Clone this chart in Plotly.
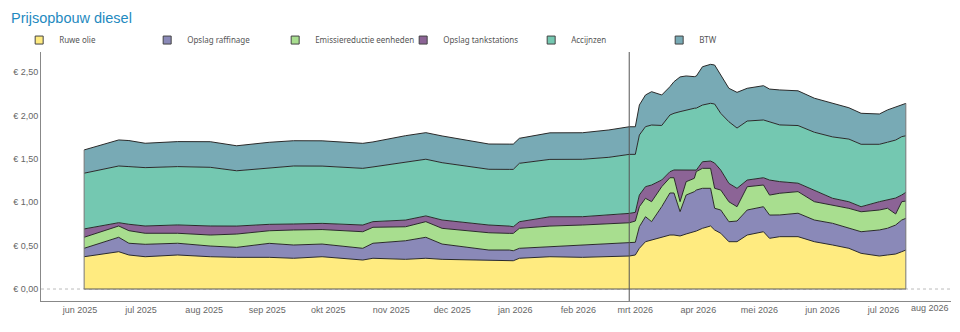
import plotly.graph_objects as go

# ---- data (euro per liter) ----
dates = [
    "2025-06-03", "2025-06-20", "2025-06-25", "2025-07-03", "2025-07-19", "2025-08-04",
    "2025-08-17", "2025-09-02", "2025-09-14", "2025-09-28", "2025-10-18", "2025-10-23",
    "2025-11-08", "2025-11-18", "2025-11-26", "2025-12-19", "2025-12-29", "2025-12-31",
    "2026-01-03", "2026-01-18", "2026-02-03", "2026-02-16", "2026-02-26", "2026-03-01",
    "2026-03-03", "2026-03-06", "2026-03-09", "2026-03-14", "2026-03-18", "2026-03-20",
    "2026-03-23", "2026-03-26", "2026-03-30", "2026-03-31", "2026-04-03", "2026-04-07",
    "2026-04-09", "2026-04-12", "2026-04-16", "2026-04-20", "2026-04-25", "2026-05-03",
    "2026-05-06", "2026-05-11", "2026-05-20", "2026-05-28", "2026-06-06", "2026-06-14",
    "2026-06-20", "2026-06-29", "2026-07-03", "2026-07-07", "2026-07-10", "2026-07-12",
]
ruwe_olie = [
    .372, .430, .392, .372, .392, .372, .365, .365, .354, .372, .334, .354,
    .342, .354, .342, .334, .334, .326, .354, .372, .365, .372, .380, .392,
    .469, .545, .565, .603, .622, .622, .611, .634, .660, .668, .699, .726,
    .680, .642, .545, .545, .622, .660, .584, .603, .603, .545, .507, .469,
    .411, .380, .392, .403, .430, .449,
]
opslag_raffinage = [
    .097, .166, .135, .143, .135, .123, .115, .161, .153, .146, .135, .173,
    .214, .242, .176, .115, .115, .115, .115, .115, .142, .146, .153, .146,
    .249, .288, .211, .346, .484, .484, .280, .449, .461, .472, .461, .434,
    .250, .268, .230, .238, .288, .288, .268, .250, .270, .250, .250, .230,
    .249, .300, .308, .334, .365, .365,
]
emissiereductie = [
    .127, .130, .145, .127, .115, .127, .153, .145, .173, .167, .191, .184,
    .161, .180, .181, .199, .192, .200, .230, .238, .230, .238, .230, .245,
    .230, .212, .230, .230, .176, .176, .115, .153, .154, .213, .230, .230,
    .230, .230, .230, .165, .268, .250, .230, .250, .249, .211, .211, .230,
    .230, .230, .230, .127, .211, .199,
]
opslag_tankstations = [
    .096, .038, .074, .084, .096, .104, .092, .074, .069, .071, .077, .065,
    .077, .066, .096, .089, .084, .076, .076, .107, .096, .096, .108, .100,
    .135, .134, .192, .077, .069, .089, .365, .135, .096, .017, .076, .084,
    .291, .230, .212, .212, .077, .084, .173, .134, .097, .135, .077, .076,
    .058, .096, .096, .184, .077, .100,
]
accijnzen = [
    .642, .653, .664, .672, .672, .676, .637, .652, .668, .660, .653, .630,
    .672, .653, .660, .642, .653, .661, .673, .661, .661, .665, .680, .668,
    .691, .691, .691, .628, .653, .653, .672, .691, .711, .714, .653, .665,
    .680, .653, .710, .694, .680, .665, .668, .653, .664, .665, .707, .722,
    .719, .661, .665, .668, .672, .652,
]
btw = [
    .268, .300, .300, .281, .288, .295, .288, .293, .291, .291, .288, .288,
    .300, .306, .308, .291, .291, .291, .288, .306, .306, .315, .318, .318,
    .346, .365, .384, .351, .326, .364, .400, .392, .364, .369, .441, .449,
    .449, .441, .385, .411, .377, .395, .380, .403, .400, .392, .388, .361,
    .357, .349, .372, .380, .373, .373,
]

series_names = ["Ruwe olie", "Opslag raffinage", "Emissiereductie eenheden",
                "Opslag tankstations", "Accijnzen", "BTW"]
series_values = [ruwe_olie, opslag_raffinage, emissiereductie,
                 opslag_tankstations, accijnzen, btw]
series_colors = ["#FFEB80", "#8A89B8", "#A8DE8F", "#8C6496", "#74C8B1", "#78AAB5"]

month_ticks = ["2025-06-01", "2025-07-01", "2025-08-01", "2025-09-01", "2025-10-01",
               "2025-11-01", "2025-12-01", "2026-01-01", "2026-02-01", "2026-03-01",
               "2026-04-01", "2026-05-01", "2026-06-01", "2026-07-01", "2026-08-01"]
month_labels = ["jun 2025", "jul 2025", "aug 2025", "sep 2025", "okt 2025", "nov 2025",
                "dec 2025", "jan 2026", "feb 2026", "mrt 2026", "apr 2026", "mei 2026",
                "jun 2026", "jul 2026", "aug 2026"]
ref_date = "2026-02-26"
x_range = ["2025-05-12 19:00", "2026-08-03 05:00"]
y_range = [-0.138, 2.73]

AXIS_FONT = dict(family="Liberation Sans, Arial, sans-serif", size=9, color="#666666")

fig = go.Figure()

for name, vals, col in zip(series_names, series_values, series_colors):
    fig.add_trace(go.Scatter(
        x=dates, y=vals, name=name, stackgroup="one", mode="lines",
        line=dict(color="#2a2a2a", width=1, shape="linear"),
        fillcolor=col, showlegend=False, hoverinfo="skip",
    ))

# legend swatches
for name, col in zip(series_names, series_colors):
    fig.add_trace(go.Scatter(
        x=[None], y=[None], name=name, mode="markers",
        marker=dict(symbol="square", size=8, color=col,
                    line=dict(color="#444444", width=1)),
        showlegend=True,
    ))

# dotted zero line
fig.add_shape(type="line", xref="paper", x0=0, x1=1, yref="y", y0=0, y1=0,
              line=dict(color="#bbbbbb", width=1, dash="dot"), layer="below")

# outline of the stacked area: bottom and both side edges
first_total = sum(v[0] for v in series_values)
last_total = sum(v[-1] for v in series_values)
fig.add_shape(type="line", xref="x", x0=dates[0], x1=dates[-1], yref="y", y0=0, y1=0,
              line=dict(color="#555555", width=1), layer="above")
fig.add_shape(type="line", xref="x", x0=dates[0], x1=dates[0], yref="y", y0=0, y1=first_total,
              line=dict(color="#777777", width=1), layer="above")
fig.add_shape(type="line", xref="x", x0=dates[-1], x1=dates[-1], yref="y", y0=0, y1=last_total,
              line=dict(color="#777777", width=1), layer="above")

# reference line
fig.add_shape(type="line", xref="x", x0=ref_date, x1=ref_date, yref="paper", y0=0, y1=1,
              line=dict(color="#555555", width=1), layer="above")

fig.add_annotation(text=month_labels[-1], xref="paper", x=1, xanchor="right",
                   yref="paper", y=0, yanchor="top", yshift=0, showarrow=False,
                   font=AXIS_FONT)

fig.update_layout(
    width=960, height=332,
    margin=dict(l=41, r=9, t=52, b=31),
    paper_bgcolor="white", plot_bgcolor="white",
    separators=",.",
    title=dict(text="Prijsopbouw diesel", x=11 / 960, xanchor="left", xref="container",
               y=1 - 18 / 332, yanchor="middle", yref="container",
               font=dict(family="Liberation Sans, Arial, sans-serif", size=14.5, color="#1f8ac0")),
    legend=dict(orientation="h", xref="paper", yref="paper",
                x=-0.024, xanchor="left", y=1.048, yanchor="middle",
                entrywidth=83, entrywidthmode="pixels",
                font=dict(family="Noto Sans, sans-serif", size=8, color="#555555"),
                bgcolor="rgba(0,0,0,0)", traceorder="normal"),
    xaxis=dict(type="date", range=x_range, showgrid=False, zeroline=False,
               showline=True, linecolor="#888888", linewidth=1,
               tickvals=month_ticks, ticktext=month_labels[:-1] + [""],
               ticks="", tickfont=AXIS_FONT),
    yaxis=dict(range=y_range, showgrid=False, zeroline=False,
               showline=True, linecolor="#888888", linewidth=1,
               tick0=0, dtick=0.5, tickformat=".2f", tickprefix="€ ",
               ticks="", tickfont=AXIS_FONT),
    hovermode=False,
)

fig.write_html("out.html")
